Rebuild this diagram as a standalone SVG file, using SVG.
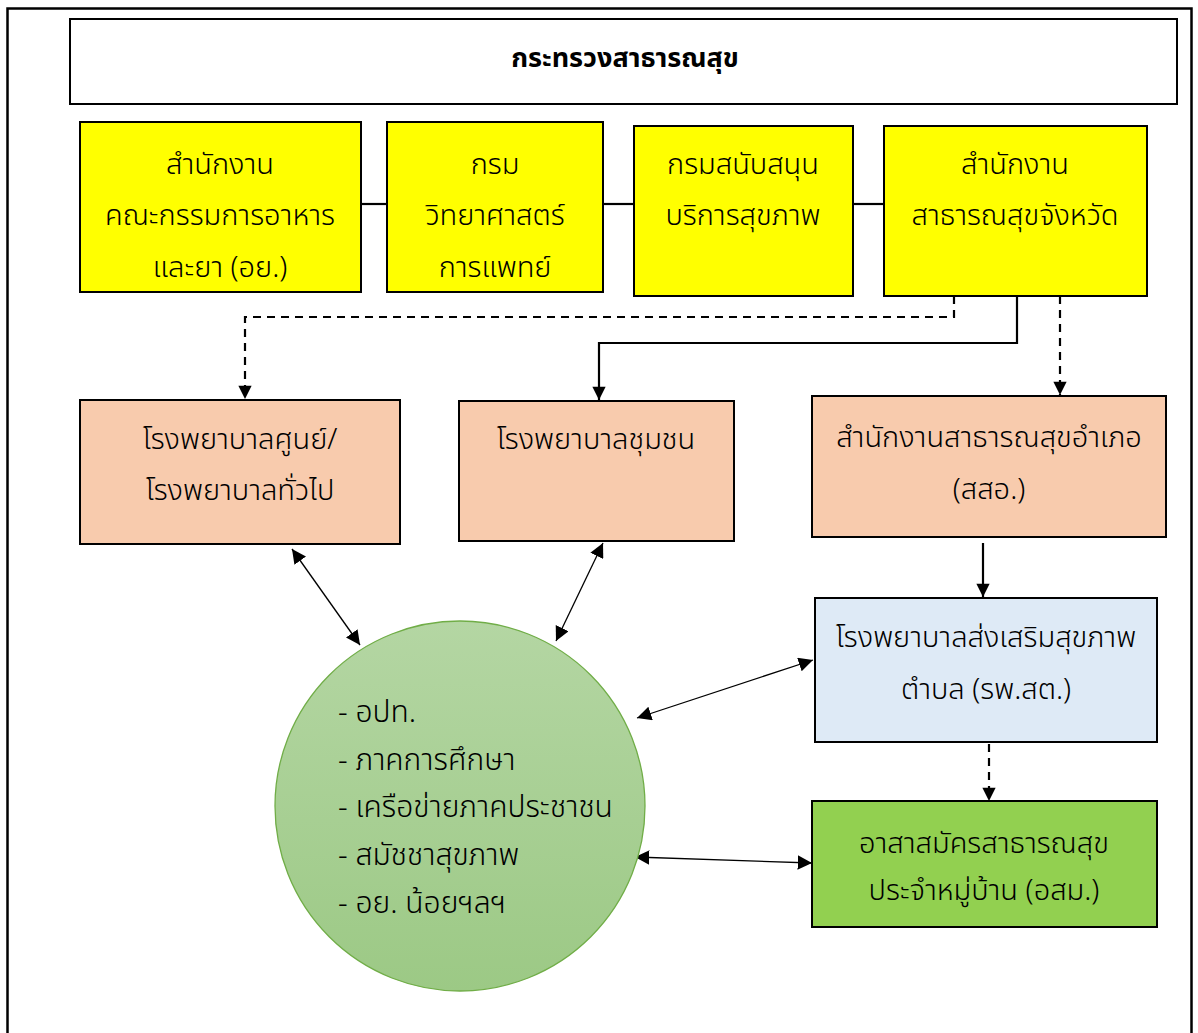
<svg xmlns="http://www.w3.org/2000/svg" width="1198" height="1033" viewBox="0 0 1198 1033">
<style>
text{font-family:"Noto Sans Thai","Noto Sans","DejaVu Sans",sans-serif;fill:#000;font-size:29px;font-weight:300;text-anchor:middle}
.ttl{font-weight:bold;font-size:27px}
.box{stroke:#000;stroke-width:2}
.y{fill:#FFFF00}
.p{fill:#F8CBAD}
.b{fill:#DEEAF6}
.g{fill:#92D050}
.ln{fill:none;stroke:#000;stroke-width:2.2}
.ds{stroke-dasharray:8,6}
.thin{fill:none;stroke:#000;stroke-width:1.3}
.lt{text-anchor:start;font-size:30px}
</style>
<defs>
<marker id="ah" viewBox="0 0 10 10" refX="10" refY="5" markerWidth="6.5" markerHeight="6" markerUnits="strokeWidth" orient="auto-start-reverse"><path d="M0,0L10,5L0,10z" fill="#000"/></marker>
<marker id="ah2" viewBox="0 0 10 10" refX="10" refY="5" markerWidth="11" markerHeight="11" markerUnits="strokeWidth" orient="auto-start-reverse"><path d="M0,0L10,5L0,10z" fill="#000"/></marker>
<linearGradient id="gc" x1="0" y1="0" x2="0" y2="1"><stop offset="0" stop-color="#B4D6A3"/><stop offset="1" stop-color="#9CC985"/></linearGradient>
</defs>
<rect x="7.5" y="8.5" width="1184" height="1040" fill="none" stroke="#000" stroke-width="2.5"/>
<g id="title"><rect x="70" y="19" width="1107" height="85" fill="#fff" class="box"/><text x="625" y="67" class="ttl">กระทรวงสาธารณสุข</text></g>
<g id="connectors">
<line x1="361" y1="204" x2="387" y2="204" class="ln"/>
<line x1="603" y1="204" x2="634" y2="204" class="ln"/>
<line x1="853" y1="204" x2="884" y2="204" class="ln"/>
<path d="M954,296V317H245V399" class="ln ds" marker-end="url(#ah)"/>
<path d="M1017,296V343H599V400" class="ln" marker-end="url(#ah)"/>
<path d="M1060,296V395" class="ln ds" marker-end="url(#ah)"/>
<path d="M983,543V597" class="ln" marker-end="url(#ah)"/>
<path d="M989,744V801" class="ln ds" marker-end="url(#ah)"/>
<line x1="292" y1="549" x2="360" y2="645" class="thin" marker-start="url(#ah2)" marker-end="url(#ah2)"/>
<line x1="603" y1="543" x2="556" y2="641" class="thin" marker-start="url(#ah2)" marker-end="url(#ah2)"/>
<line x1="813" y1="660" x2="637" y2="718" class="thin" marker-start="url(#ah2)" marker-end="url(#ah2)"/>
<line x1="812" y1="863" x2="635" y2="857" class="thin" marker-start="url(#ah2)" marker-end="url(#ah2)"/>
</g>
<g id="n-fda"><rect x="80" y="122" width="281" height="170" class="box y"/><text x="220" y="174">สำนักงาน</text><text x="220" y="225">คณะกรรมการอาหาร</text><text x="220" y="277">และยา (อย.)</text></g>
<g id="n-dms"><rect x="387" y="122" width="216" height="170" class="box y"/><text x="495" y="174">กรม</text><text x="495" y="225">วิทยาศาสตร์</text><text x="495" y="277">การแพทย์</text></g>
<g id="n-hss"><rect x="634" y="126" width="219" height="170" class="box y"/><text x="743" y="174">กรมสนับสนุน</text><text x="743" y="225">บริการสุขภาพ</text></g>
<g id="n-ppho"><rect x="884" y="126" width="263" height="170" class="box y"/><text x="1015" y="174">สำนักงาน</text><text x="1015" y="225">สาธารณสุขจังหวัด</text></g>
<g id="n-hosp"><rect x="80" y="400" width="320" height="144" class="box p"/><text x="240" y="449">โรงพยาบาลศูนย์/</text><text x="240" y="500">โรงพยาบาลทั่วไป</text></g>
<g id="n-comm"><rect x="459" y="401" width="275" height="140" class="box p"/><text x="596" y="449">โรงพยาบาลชุมชน</text></g>
<g id="n-dho"><rect x="812" y="396" width="354" height="141" class="box p"/><text x="989" y="447">สำนักงานสาธารณสุขอำเภอ</text><text x="989" y="499">(สสอ.)</text></g>
<g id="n-rph"><rect x="815" y="598" width="342" height="144" class="box b"/><text x="986" y="647">โรงพยาบาลส่งเสริมสุขภาพ</text><text x="986" y="699">ตำบล (รพ.สต.)</text></g>
<g id="n-vhv"><rect x="812" y="801" width="345" height="126" class="box g"/><text x="984" y="853">อาสาสมัครสาธารณสุข</text><text x="984" y="900">ประจำหมู่บ้าน (อสม.)</text></g>
<g id="n-net"><circle cx="460" cy="806" r="185" fill="url(#gc)" stroke="#70AD47" stroke-width="1.3"/>
<text x="338" y="722" class="lt">- อปท.</text>
<text x="338" y="770" class="lt">- ภาคการศึกษา</text>
<text x="338" y="817" class="lt">- เครือข่ายภาคประชาชน</text>
<text x="338" y="865" class="lt">- สมัชชาสุขภาพ</text>
<text x="338" y="913" class="lt">- อย. น้อยฯลฯ</text></g>
</svg>
